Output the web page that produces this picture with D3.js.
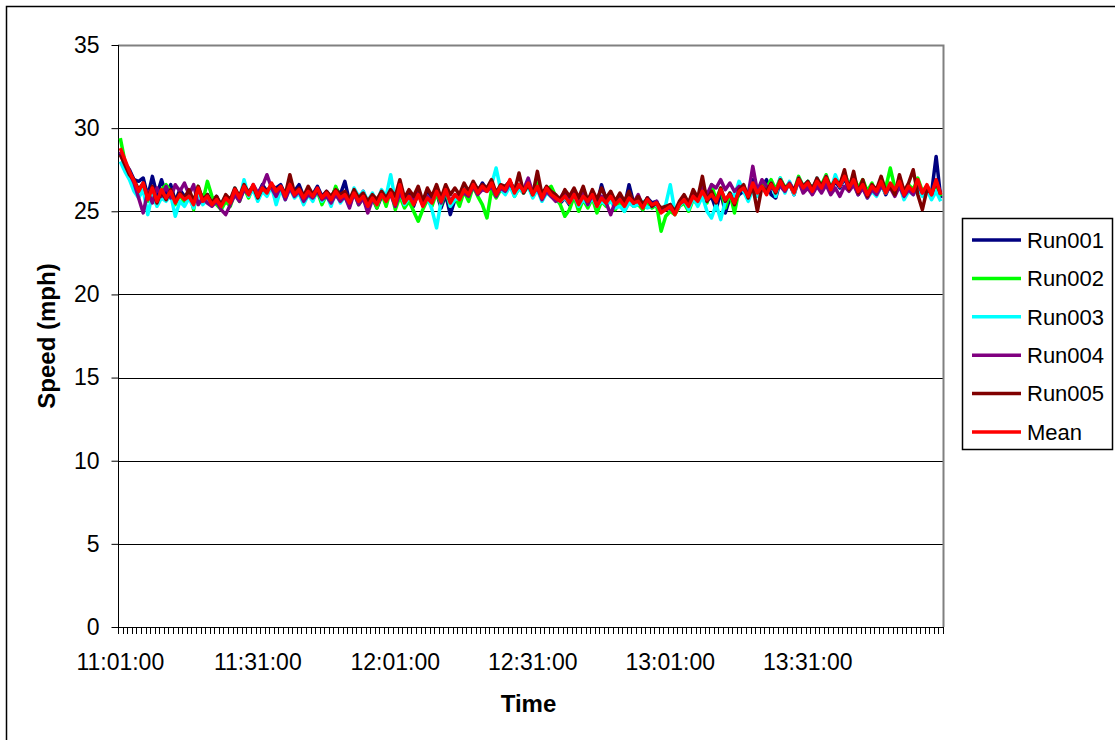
<!DOCTYPE html>
<html>
<head>
<meta charset="utf-8">
<script src="https://cdn.jsdelivr.net/npm/d3@7"></script>
<style>
  html, body { margin: 0; padding: 0; background: #fff; }
  svg { display: block; font-family: "Liberation Sans", Arial, sans-serif; }
</style>
</head>
<body>
<svg id="chart" width="1115" height="740"></svg>
<script>
// Speed samples, one per minute from 11:01:00 to 14:00:00
const startTime = "11:01:00";
const sampleCount = 180;
const tickLabels = ["11:01:00", "11:31:00", "12:01:00", "12:31:00", "13:01:00", "13:31:00"];
const yTicks = [0, 5, 10, 15, 20, 25, 30, 35];
const seriesNames = ["Run001", "Run002", "Run003", "Run004", "Run005", "Mean"];
const seriesColors = ["#000080", "#00ff00", "#00ffff", "#800080", "#800000", "#ff0000"];

const run001 = [
  28.5, 27.9, 27.5, 26.9, 26.8, 27.0, 25.9, 27.1, 26.0, 26.9,
  26.0, 26.6, 25.6, 26.3, 25.9, 26.1, 25.5, 26.2, 25.9, 26.0,
  25.5, 25.9, 25.2, 25.7, 25.6, 26.1, 25.9, 26.4, 26.2, 26.5,
  26.0, 26.6, 26.2, 26.5, 26.4, 26.6, 26.0, 26.5, 26.2, 26.6,
  25.9, 26.3, 26.0, 26.5, 25.9, 26.2, 25.8, 26.4, 26.0, 26.8,
  25.6, 26.1, 25.7, 26.2, 25.4, 25.8, 25.2, 25.9, 25.6, 26.2,
  25.6, 26.2, 25.7, 26.0, 25.3, 26.1, 25.4, 26.2, 25.6, 26.1,
  25.2, 26.0, 24.8, 25.7, 25.8, 26.2, 26.3, 26.5, 26.2, 26.7,
  26.3, 26.6, 26.2, 26.4, 26.5, 26.8, 26.3, 26.5, 26.4, 26.6,
  26.2, 26.4, 25.7, 26.3, 25.9, 25.7, 25.5, 25.8, 25.4, 26.0,
  25.3, 25.8, 25.7, 26.1, 25.4, 26.6, 25.7, 25.9, 25.5, 25.8,
  25.3, 26.6, 25.5, 25.7, 25.1, 25.8, 25.5, 25.6, 25.0, 25.2,
  25.4, 24.9, 25.3, 25.6, 25.2, 25.8, 25.5, 26.1, 25.6, 25.9,
  25.1, 26.2, 24.9, 25.8, 25.6, 26.0, 26.2, 25.8, 26.9, 25.9,
  26.5, 26.9, 26.0, 25.8, 26.8, 26.3, 26.7, 26.0, 26.9, 26.2,
  26.7, 26.4, 26.9, 26.3, 27.0, 26.2, 26.8, 26.4, 27.0, 26.3,
  26.8, 26.0, 26.6, 25.9, 26.3, 26.1, 26.7, 26.0, 26.6, 26.2,
  26.7, 25.8, 26.4, 26.1, 26.8, 26.0, 26.4, 26.1, 28.3, 25.8
];
const run002 = [
  29.4, 28.0, 27.2, 26.6, 26.0, 26.5, 25.6, 26.2, 25.4, 26.3,
  26.6, 26.2, 25.4, 26.0, 25.5, 26.2, 25.1, 26.5, 25.6, 26.8,
  25.9, 25.4, 25.1, 25.6, 25.3, 26.1, 25.6, 26.4, 25.8, 26.5,
  25.9, 26.3, 26.0, 26.6, 26.1, 26.4, 25.8, 26.5, 25.9, 26.2,
  25.5, 26.1, 25.7, 26.2, 25.4, 26.0, 25.6, 26.5, 25.7, 26.1,
  25.3, 26.2, 25.4, 25.8, 25.1, 25.9, 25.2, 26.1, 25.3, 26.3,
  25.1, 25.9, 25.2, 25.6, 25.0, 24.4, 25.1, 25.7, 25.3, 26.1,
  25.4, 26.2, 25.3, 25.9, 25.3, 26.2, 25.6, 26.5, 25.9, 25.4,
  24.6, 26.3, 25.8, 26.3, 26.1, 26.8, 25.9, 26.4, 26.1, 26.6,
  25.9, 26.7, 26.1, 26.3, 26.5, 25.9, 25.4, 24.7, 25.1, 25.9,
  25.0, 25.7, 25.2, 25.8, 24.9, 25.6, 25.3, 25.8, 25.1, 25.5,
  25.0, 25.6, 25.3, 25.4, 25.1, 25.5, 25.2, 25.4, 23.8, 24.7,
  25.0, 24.8, 25.3, 25.5, 25.0, 25.7, 25.4, 26.1, 25.5, 26.6,
  25.7, 26.4, 25.2, 26.1, 24.9, 26.3, 26.5, 26.0, 26.6, 26.2,
  26.6, 26.4, 26.9, 26.3, 27.0, 26.4, 26.7, 26.2, 27.1, 26.5,
  26.8, 26.3, 26.9, 26.6, 27.2, 26.4, 26.9, 26.6, 27.3, 26.6,
  27.1, 26.4, 26.9, 26.2, 26.7, 26.0, 26.9, 26.4, 27.6, 26.4,
  26.6, 25.9, 26.6, 26.3, 27.0, 26.2, 26.5, 26.1, 26.6, 25.9
];
const run003 = [
  28.0, 27.4, 26.9, 26.2, 25.8, 26.3, 24.8, 26.0, 25.3, 25.8,
  25.6, 26.0, 24.7, 25.6, 25.3, 25.8, 25.2, 26.2, 25.4, 25.7,
  25.4, 25.6, 25.5, 25.9, 25.5, 26.4, 25.7, 26.9, 25.9, 26.3,
  25.6, 26.2, 25.9, 26.5, 25.4, 26.3, 25.7, 26.4, 25.8, 26.1,
  25.4, 26.0, 25.6, 26.3, 25.6, 26.0, 25.3, 26.2, 25.5, 25.9,
  25.3, 26.4, 25.9, 26.2, 25.6, 26.1, 25.5, 26.3, 25.9, 27.2,
  25.6, 26.3, 25.4, 25.8, 25.5, 26.1, 25.4, 25.9, 25.1, 24.0,
  25.6, 26.5, 25.3, 25.7, 25.8, 26.4, 26.1, 26.7, 26.3, 26.4,
  26.2, 26.6, 27.6, 26.3, 26.0, 26.5, 25.9, 26.4, 26.1, 26.5,
  25.8, 26.3, 25.6, 26.1, 25.9, 25.7, 25.6, 25.8, 25.5, 26.0,
  25.3, 25.7, 25.4, 25.8, 25.3, 25.6, 25.4, 25.6, 25.2, 25.3,
  25.0, 25.5, 25.3, 25.4, 25.6, 25.2, 25.3, 25.4, 25.0, 25.4,
  26.6, 25.0, 25.3, 25.7, 25.1, 25.8, 25.3, 25.9, 25.0, 24.6,
  25.4, 24.5, 25.6, 26.1, 25.9, 26.8, 26.2, 25.6, 26.3, 25.9,
  26.4, 26.1, 26.7, 25.9, 27.0, 26.1, 26.8, 26.0, 27.0, 26.5,
  26.8, 26.1, 27.0, 26.4, 27.1, 26.2, 27.2, 26.5, 27.1, 26.7,
  26.7, 26.1, 26.4, 25.8, 26.2, 25.9, 26.5, 26.1, 26.6, 26.1,
  26.6, 25.7, 26.2, 26.0, 26.5, 25.9, 26.3, 25.7, 26.2, 25.6
];
const run004 = [
  28.6, 28.0, 27.3, 26.7, 25.8, 24.9, 26.2, 25.5, 26.4, 25.9,
  26.5, 25.8, 26.6, 26.2, 26.7, 26.0, 26.6, 25.4, 25.8, 25.5,
  25.3, 25.6, 25.1, 24.8, 25.4, 26.0, 25.6, 26.3, 26.0, 26.6,
  26.1, 26.5, 27.2, 26.4, 25.9, 26.5, 25.7, 26.4, 25.9, 26.2,
  25.6, 26.0, 25.8, 26.2, 25.7, 25.9, 25.5, 26.0, 25.6, 25.9,
  25.2, 26.1, 25.4, 25.8, 24.9, 25.7, 25.5, 26.0, 25.7, 26.0,
  25.3, 26.1, 25.6, 25.9, 25.7, 26.2, 25.4, 25.9, 25.6, 26.3,
  25.5, 26.2, 25.6, 26.0, 25.9, 26.1, 25.9, 26.5, 26.0, 26.3,
  26.2, 26.5, 25.9, 26.4, 26.2, 26.7, 26.2, 26.5, 26.3, 27.0,
  26.1, 26.4, 25.7, 26.2, 25.9, 25.6, 25.8, 26.2, 25.6, 26.3,
  25.5, 26.1, 25.4, 26.0, 25.4, 25.9, 25.5, 24.8, 25.6, 26.0,
  25.4, 25.9, 25.5, 26.0, 25.3, 25.8, 25.3, 25.6, 25.0, 25.1,
  25.2, 24.9, 25.5, 25.6, 25.5, 26.1, 25.8, 26.5, 26.0, 26.6,
  26.4, 26.9, 26.3, 26.7, 26.2, 26.5, 26.3, 26.0, 27.7, 26.2,
  26.9, 26.5, 26.4, 26.3, 26.5, 26.2, 26.7, 26.3, 26.8, 26.1,
  26.4, 26.0, 26.5, 26.1, 26.6, 26.0, 26.4, 25.9, 26.5, 26.2,
  26.6, 26.0, 26.4, 25.8, 26.3, 26.0, 26.5, 26.2, 26.4, 25.9,
  26.5, 25.9, 26.3, 26.0, 26.6, 26.1, 26.5, 26.0, 26.8, 26.1
];
const run005 = [
  28.4, 27.8, 27.2, 26.9, 26.3, 26.7, 25.8, 26.5, 25.5, 26.2,
  25.7, 26.3, 25.6, 26.1, 25.8, 26.3, 25.6, 26.5, 25.7, 26.0,
  25.5, 25.9, 25.4, 26.0, 25.7, 26.4, 25.9, 26.6, 26.1, 26.5,
  25.8, 26.4, 26.2, 26.6, 26.3, 26.5, 26.0, 27.2, 26.1, 26.4,
  25.9, 26.5, 26.0, 26.3, 25.8, 26.2, 25.9, 26.3, 26.0, 26.2,
  25.7, 26.3, 25.8, 26.1, 25.6, 26.0, 25.7, 26.2, 25.8, 26.3,
  25.9, 26.9, 25.8, 26.3, 25.9, 26.5, 25.6, 26.4, 25.9, 26.6,
  25.8, 26.6, 26.0, 26.4, 26.0, 26.7, 26.2, 26.8, 26.3, 26.6,
  26.4, 26.9, 26.1, 26.6, 26.5, 26.8, 26.2, 27.3, 26.1, 26.6,
  26.0, 27.4, 26.0, 26.5, 26.2, 26.0, 25.7, 26.3, 25.9, 26.4,
  25.8, 26.5, 25.6, 26.3, 25.7, 26.4, 25.8, 26.2, 25.6, 26.1,
  25.6, 26.2, 25.5, 25.9, 25.4, 25.8, 25.3, 25.5, 25.2, 25.3,
  25.4, 25.0, 25.6, 26.0, 25.5, 26.3, 25.8, 27.1, 25.6, 26.2,
  25.5, 26.4, 25.6, 26.1, 25.4, 26.3, 26.6, 25.8, 26.5, 25.0,
  26.5, 26.2, 26.7, 26.1, 26.9, 26.4, 26.6, 26.2, 27.0, 26.5,
  26.8, 26.3, 27.0, 26.5, 27.1, 26.4, 26.9, 26.6, 27.5, 26.3,
  27.4, 26.1, 26.9, 25.9, 26.6, 26.3, 27.1, 26.2, 26.5, 26.0,
  27.2, 26.2, 26.7, 27.5, 26.0, 25.1, 26.3, 26.1, 26.8, 26.0
];
const mean = [
  28.8, 28.1, 27.4, 26.8, 26.2, 26.7, 25.7, 26.4, 25.6, 26.3,
  25.8, 26.2, 25.5, 26.0, 25.7, 25.9, 25.4, 26.4, 25.6, 25.9,
  25.4, 25.7, 25.3, 25.8, 25.5, 26.3, 25.8, 26.5, 26.0, 26.6,
  25.9, 26.4, 26.1, 26.7, 26.2, 26.5, 25.9, 26.6, 26.0, 26.3,
  25.8, 26.2, 25.9, 26.4, 25.8, 26.1, 25.7, 26.2, 25.8, 26.0,
  25.5, 26.1, 25.6, 25.9, 25.3, 25.8, 25.4, 26.0, 25.6, 26.1,
  25.4, 26.6, 25.5, 25.9, 25.4, 26.0, 25.3, 25.8, 25.5, 26.2,
  25.6, 26.3, 25.5, 26.0, 25.7, 26.3, 26.0, 26.6, 26.1, 26.5,
  26.2, 26.7, 26.0, 26.5, 26.3, 26.9, 26.1, 26.6, 26.2, 26.7,
  26.0, 26.5, 25.8, 26.4, 26.0, 25.8, 25.6, 25.9, 25.5, 26.0,
  25.4, 25.9, 25.6, 26.0, 25.3, 25.8, 25.5, 25.9, 25.4, 25.7,
  25.3, 25.8, 25.5, 25.6, 25.2, 25.7, 25.4, 25.5, 24.9, 25.1,
  25.3, 24.8, 25.4, 25.7, 25.3, 25.9, 25.6, 26.2, 25.7, 26.0,
  25.6, 26.3, 25.7, 26.0, 25.5, 26.2, 26.4, 25.9, 26.7, 26.1,
  26.5, 26.0, 26.6, 26.2, 26.8, 26.3, 26.6, 26.1, 26.9, 26.4,
  26.7, 26.2, 26.8, 26.4, 27.0, 26.3, 26.9, 26.5, 27.1, 26.4,
  26.9, 26.2, 26.6, 26.0, 26.5, 26.2, 26.8, 26.1, 26.7, 26.3,
  26.8, 26.0, 26.5, 26.2, 26.9, 26.1, 26.6, 26.0, 26.9, 26.0
];
const seriesValues = [run001, run002, run003, run004, run005, mean];

// Category axis: one minute per sample
const parseTime = d3.timeParse("%H:%M:%S");
const fmtTime = d3.timeFormat("%H:%M:%S");
const t0 = parseTime(startTime);
const categories = d3.range(sampleCount).map(i => fmtTime(d3.timeMinute.offset(t0, i)));

const svg = d3.select("#chart");
const plot = { left: 118, right: 943, top: 45, bottom: 627 };
const labelSize = 23;

const x = d3.scaleBand().domain(categories).range([plot.left, plot.right]).padding(0);
const y = d3.scaleLinear().domain([0, 35]).range([plot.bottom, plot.top]);
const cx = c => x(c) + x.bandwidth() / 2;

// Outer chart frame
svg.append("rect")
  .attr("x", 6.5).attr("y", 6.5)
  .attr("width", 1130).attr("height", 760)
  .attr("fill", "none").attr("stroke", "#000").attr("stroke-width", 1.5);

// Horizontal gridlines
svg.append("g").selectAll("line")
  .data(yTicks.filter(v => v > 0 && v < 35))
  .join("line")
  .attr("x1", plot.left).attr("x2", plot.right)
  .attr("y1", d => Math.round(y(d)) + 0.5).attr("y2", d => Math.round(y(d)) + 0.5)
  .attr("stroke", "#000").attr("stroke-width", 1);

// Plot area border (top and right, grey)
svg.append("path")
  .attr("d", `M${plot.left},${plot.top + 0.5}H${plot.right + 0.5}V${plot.bottom}`)
  .attr("fill", "none").attr("stroke", "#808080").attr("stroke-width", 2);

// Y axis
const yAxis = d3.axisLeft(y).tickValues(yTicks).tickSize(7).tickPadding(12);
const gy = svg.append("g")
  .attr("transform", `translate(${plot.left + 0.5},0)`)
  .call(yAxis);
gy.select(".domain").attr("stroke", "#000").attr("d", `M-0,${plot.top}V${plot.bottom + 6}`);
gy.selectAll(".tick line").attr("stroke", "#000");
gy.selectAll(".tick text")
  .attr("fill", "#000").attr("font-size", labelSize)
  .attr("font-family", "'Liberation Sans', Arial, sans-serif");

// X axis: tick marks on every category boundary
const boundaries = d3.range(sampleCount + 1).map(i => plot.left + i * x.bandwidth());
const gx = svg.append("g");
gx.append("line")
  .attr("x1", plot.left).attr("x2", plot.right)
  .attr("y1", plot.bottom + 0.5).attr("y2", plot.bottom + 0.5)
  .attr("stroke", "#000");
gx.selectAll("line.tk").data(boundaries).join("line")
  .attr("class", "tk")
  .attr("x1", d => Math.round(d) + 0.5).attr("x2", d => Math.round(d) + 0.5)
  .attr("y1", plot.bottom).attr("y2", plot.bottom + 7)
  .attr("stroke", "#000");
gx.selectAll("text").data(tickLabels).join("text")
  .attr("x", d => cx(d))
  .attr("y", 670)
  .attr("text-anchor", "middle")
  .attr("font-size", labelSize)
  .attr("fill", "#000")
  .text(d => d);

// Series lines
const line = d3.line()
  .x((d, i) => cx(categories[i]))
  .y(d => y(d));

svg.append("g").selectAll("path")
  .data(seriesValues)
  .join("path")
  .attr("d", d => line(d))
  .attr("fill", "none")
  .attr("stroke", (d, i) => seriesColors[i])
  .attr("stroke-width", 3.5)
  .attr("stroke-linejoin", "round");

// Axis titles
svg.append("text")
  .attr("x", (plot.left + plot.right) / 2 - 2)
  .attr("y", 712)
  .attr("text-anchor", "middle")
  .attr("font-size", 24).attr("font-weight", "bold")
  .text("Time");

svg.append("text")
  .attr("transform", `translate(55,${(plot.top + plot.bottom) / 2}) rotate(-90)`)
  .attr("text-anchor", "middle")
  .attr("font-size", 24).attr("font-weight", "bold")
  .text("Speed (mph)");

// Legend
const legend = svg.append("g");
legend.append("rect")
  .attr("x", 962.5).attr("y", 218.5)
  .attr("width", 150).attr("height", 231)
  .attr("fill", "#fff").attr("stroke", "#000").attr("stroke-width", 1.5);
const items = legend.selectAll("g.item").data(seriesNames).join("g")
  .attr("class", "item")
  .attr("transform", (d, i) => `translate(0,${240 + i * 38.4})`);
items.append("line")
  .attr("x1", 972).attr("x2", 1021)
  .attr("stroke", (d, i) => seriesColors[i]).attr("stroke-width", 3.5);
items.append("text")
  .attr("x", 1027).attr("dy", "0.35em")
  .attr("font-size", 22).attr("fill", "#000")
  .text(d => d);
</script>
</body>
</html>
